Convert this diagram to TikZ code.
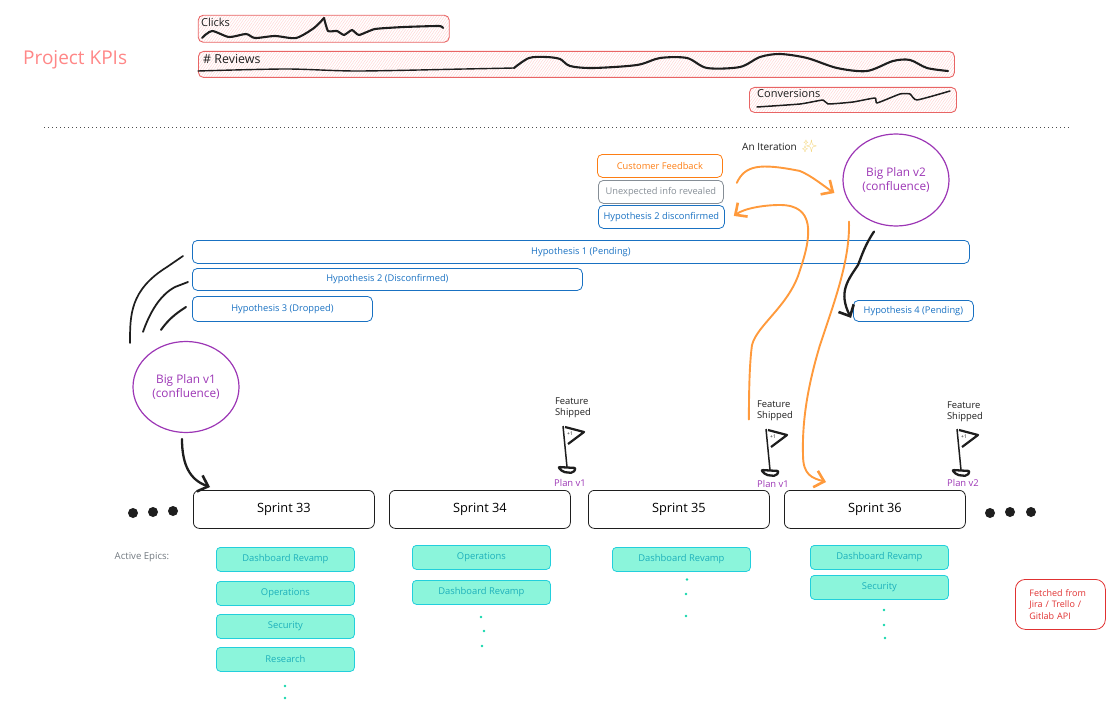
\documentclass[tikz,border=0pt]{standalone}
\usepackage{fontspec}
\setmainfont{Open Sans}
\newfontfamily\emojifont{Noto Emoji}
\usepackage{xcolor}
\usetikzlibrary{arrows.meta,patterns.meta,shapes.geometric}
\definecolor{kpiRed}{HTML}{E03131}
\definecolor{kpiPink}{HTML}{FF8787}
\definecolor{hatchPink}{HTML}{FFD5D5}
\definecolor{hypBlue}{HTML}{1971C2}
\definecolor{fbOrange}{HTML}{FD7E14}
\definecolor{arrOrange}{HTML}{FF9A3C}
\definecolor{infoGray}{HTML}{868E96}
\definecolor{planPurple}{HTML}{9C36B5}
\definecolor{epicFill}{HTML}{8BF5DB}
\definecolor{epicLine}{HTML}{22CFDC}
\definecolor{dotGreen}{HTML}{14D6AC}
\definecolor{inkBlack}{HTML}{1E1E1E}
\definecolor{sparkYellow}{HTML}{F2D272}

\begin{document}
\begin{tikzpicture}[x=1pt, y=-1pt,
    kpibox/.style={draw=kpiRed!75, line width=0.9pt, rounded corners=5pt, anchor=north west,
      pattern={Lines[angle=55,distance=2.2pt,line width=0.5pt]}, pattern color=hatchPink},
    kpilabel/.style={font=\fontsize{11}{11}\selectfont, text=inkBlack, anchor=west, inner sep=0pt},
    kpiline/.style={inkBlack, line width=2.1pt, line cap=round, line join=round},
    hypbox/.style={draw=hypBlue, line width=0.8pt, rounded corners=5pt, anchor=north west, inner sep=0pt,
      text=hypBlue, font=\fontsize{9.3}{9.3}\selectfont},
    sprintbox/.style={draw=inkBlack, line width=0.8pt, rounded corners=6pt, anchor=north west, inner sep=0pt,
      minimum width=181pt, minimum height=38pt, font=\fontsize{12.8}{12.8}\selectfont},
    epicbox/.style={draw=epicLine, fill=epicFill, line width=0.8pt, rounded corners=4pt, anchor=north west,
      inner sep=0pt, minimum width=138pt, minimum height=24pt, text=epicLine!85!black,
      font=\fontsize{9.4}{9.4}\selectfont},
    planbubble/.style={draw=planPurple, line width=1.2pt, ellipse, text=planPurple, align=center,
      font=\fontsize{11.8}{13.5}\selectfont},
    shiplabel/.style={align=left, text=inkBlack, inner sep=0pt, font=\fontsize{9.4}{11.5}\selectfont},
    planlabel/.style={text=planPurple, inner sep=0pt, font=\fontsize{9.4}{9.4}\selectfont},
    inkarrow/.style={inkBlack, line width=2.3pt, line cap=round, line join=round},
    orangearrow/.style={arrOrange, line width=1.9pt, line cap=round, line join=round},
    barbtip/.style={-{Straight Barb[length=9pt,width=17pt,line width=2.6pt]}},
  ]
  \useasboundingbox (0,0) rectangle (1120,701);

  % KPI strip
  \node[text=kpiPink, font=\fontsize{19}{19}\selectfont, anchor=west, inner sep=0pt] (kpiTitle) at (23,60) {Project KPIs};
  \node[kpibox, minimum width=251pt, minimum height=27pt] (clicksBox) at (198,15) {};
  \node[kpibox, minimum width=756pt, minimum height=26pt] (reviewsBox) at (198,51) {};
  \node[kpibox, minimum width=207pt, minimum height=25pt] (conversionsBox) at (749,87) {};
  \node[kpilabel] (clicksLabel) at (201,22) {Clicks};
  \node[kpilabel, font=\fontsize{12.4}{12.4}\selectfont] (reviewsLabel) at (203,59) {\# Reviews};
  \node[kpilabel] (conversionsLabel) at (757,94) {Conversions};
  \draw[kpiline] plot[smooth, tension=0.45] coordinates {(202,38) (212,31) (229,37) (246,34) (255,38) (275,36) (296,38) (314,28) (324,18)};
  \draw[kpiline] plot[smooth, tension=0.3] coordinates {(324,18) (328,31) (337,31) (344,35) (352,30) (359,35) (375,29) (404,27) (439,26) (443,28)};
  \draw[kpiline, line width=1.4pt] plot[smooth, tension=0.5] coordinates {(198,71) (286,69) (357,71) (464,69) (514,68)};
  \draw[kpiline] plot[smooth, tension=0.5] coordinates {(514,68) (529,58) (546,57) (560,59) (570,66) (593,68) (637,65) (660,58) (687,58) (707,68) (740,67) (760,57) (780,54) (807,58) (837,68) (867,71) (893,61) (910,60) (927,68) (948,71)};
  \draw[kpiline, line width=1.5pt] plot[smooth, tension=0.3] coordinates {(757,107) (800,104) (823,100) (828,104) (853,102) (875,98) (877,103) (900,94) (910,94) (917,100) (950,91)};

  % Divider
  \draw[inkBlack!80, line width=0.9pt, dash pattern=on 1pt off 3pt] (44,127.5) -- (1071,127.5);

  % Iteration inputs
  \node[text=inkBlack, font=\fontsize{10}{10}\selectfont, inner sep=0pt, anchor=west] (iterLabel) at (742,146) {An Iteration\hspace{5pt}{\emojifont\color{sparkYellow}\fontsize{12}{12}\selectfont ✨}};
  \node[hypbox, draw=fbOrange, text=fbOrange, minimum width=125pt, minimum height=23pt] (feedbackBox) at (597,154) {Customer Feedback};
  \node[hypbox, draw=infoGray, text=infoGray, minimum width=125pt, minimum height=23pt] (infoBox) at (598,180) {Unexpected info revealed};
  \node[hypbox, minimum width=126pt, minimum height=23pt] (disconfirmedBox) at (598,205) {Hypothesis 2 disconfirmed};

  % Plans
  \node[planbubble, minimum width=106pt, minimum height=92pt, inner sep=0pt] (planTwo) at (896,180) {Big Plan v2\\(confluence)};
  \node[planbubble, minimum width=106pt, minimum height=91pt, inner sep=0pt] (planOne) at (186,387) {Big Plan v1\\(confluence)};

  % Hypotheses
  \node[hypbox, minimum width=777pt, minimum height=23pt] (hypOne) at (192,240) {Hypothesis 1 (Pending)};
  \node[hypbox, minimum width=390pt, minimum height=22pt] (hypTwo) at (192,268) {Hypothesis 2 (Disconfirmed)};
  \node[hypbox, minimum width=180pt, minimum height=25pt] (hypThree) at (192,296) {Hypothesis 3 (Dropped)};
  \node[hypbox, minimum width=120pt, minimum height=21pt] (hypFour) at (853,300) {Hypothesis 4 (Pending)};

  % Sprints
  \node[sprintbox] (sprintA) at (193,490) {Sprint 33};
  \node[sprintbox] (sprintB) at (389,490) {Sprint 34};
  \node[sprintbox] (sprintC) at (588,490) {Sprint 35};
  \node[sprintbox] (sprintD) at (784,490) {Sprint 36};
  \foreach \dotx/\doty in {133/513, 153/512, 173/511, 990/513, 1010/512, 1031/512}
    \fill[inkBlack] (\dotx,\doty) circle (5);

  % Flags
  \foreach \flagid/\flagx/\flagy/\planname/\labx/\laby in {a/563/426/Plan v1/570/483, b/766/429/Plan v1/773/484, c/957/429/Plan v2/963/483} {
    \begin{scope}[shift={(\flagx,\flagy)}]
      \draw[inkBlack, line width=2.2pt, line join=round] (2,1) -- (21,6) -- (5,18);
      \draw[inkBlack, line width=1.5pt] (0,0) -- (4,41);
      \draw[inkBlack, line width=2.3pt, line join=round, rounded corners=2pt] (-5,41) -- (13,42) -- (10,47) -- (0,46) -- cycle;
      \node[inkBlack, font=\fontsize{5}{5}\selectfont, inner sep=0pt] (plus\flagid) at (7,8) {+1};
    \end{scope}
    \node[planlabel] (plan\flagid) at (\labx,\laby) {\planname};
  }
  \node[shiplabel] (shipA) at (573,408) {Feature\\Shipped};
  \node[shiplabel] (shipB) at (775,411) {Feature\\Shipped};
  \node[shiplabel] (shipC) at (965,412) {Feature\\Shipped};

  % Epics
  \node[text=infoGray!85!black, font=\fontsize{9.6}{9.6}\selectfont, inner sep=0pt] (epicsLabel) at (142,557) {Active Epics:};
  \node[epicbox] (epicAa) at (216,547) {Dashboard Revamp};
  \node[epicbox] (epicAb) at (216,581) {Operations};
  \node[epicbox] (epicAc) at (216,614) {Security};
  \node[epicbox] (epicAd) at (216,647) {Research};
  \node[epicbox] (epicBa) at (412,545) {Operations};
  \node[epicbox] (epicBb) at (412,580) {Dashboard Revamp};
  \node[epicbox] (epicCa) at (612,547) {Dashboard Revamp};
  \node[epicbox] (epicDa) at (810,545) {Dashboard Revamp};
  \node[epicbox] (epicDb) at (810,575) {Security};
  \foreach \dotx/\doty in {285/686, 285/698, 481/617, 484/631, 482/646, 687/579.5, 686/594, 686/616, 884/610, 884/625, 885/638}
    \fill[dotGreen] (\dotx,\doty) circle (1.4);

  % Source note
  \node[draw=kpiRed, line width=0.8pt, rounded corners=10pt, anchor=north west, minimum width=90pt, minimum height=50pt,
    inner sep=0pt, text width=80pt, align=left, text=kpiRed, font=\fontsize{9}{11.5}\selectfont] (sourceNote) at (1015,579) {\hspace*{9pt}Fetched from\\\hspace*{9pt}Jira / Trello /\\\hspace*{9pt}Gitlab API};

  % Plan v1 connectors
  \draw[inkarrow, barbtip] ([shift={(-4,6)}]planOne.south) .. controls (182,465) and (190,480) .. ([shift={(17,-3)}]sprintA.north west);
  \draw[inkarrow, line width=1.7pt] ([shift={(-56,2)}]planOne.north) .. controls (130,315) and (130,290) .. (167,267) -- ([shift={(-9,16)}]hypOne.north west);
  \draw[inkarrow, line width=1.8pt] ([shift={(-43,-9)}]planOne.north) .. controls (150,312) and (160,295) .. (175,287) -- ([shift={(-4,14)}]hypTwo.north west);
  \draw[inkarrow, line width=2pt] ([shift={(-25,-11)}]planOne.north) .. controls (168,320) and (175,314) .. ([shift={(-6,11)}]hypThree.north west);

  % Iteration loop
  \draw[orangearrow, barbtip] ([shift={(13,-9)}]infoBox.east) .. controls (745,165) and (760,163) .. (800,171) .. controls (812,176) and (825,187) .. ([shift={(-8,13)}]planTwo.west);
  \draw[orangearrow, barbtip] ([shift={(-8,-2)}]shipB.south west) .. controls (749,380) and (750,360) .. (752,345) .. controls (757,325) and (790,305) .. (800,270) .. controls (812,235) and (815,205) .. (780,205) .. controls (765,205) and (745,208) .. ([shift={(9,-1)}]disconfirmedBox.east);
  \draw[orangearrow, barbtip] ([shift={(-47,-5)}]planTwo.south) .. controls (850,260) and (835,300) .. (820,345) .. controls (808,385) and (802,420) .. (803,455) .. controls (803,475) and (812,478) .. ([shift={(42,-8)}]sprintD.north west);
  \draw[inkarrow, barbtip] ([shift={(-22,5)}]planTwo.south) .. controls (865,245) and (862,255) .. (858,265) .. controls (848,280) and (838,292) .. ([shift={(-2,7)}]hypFour.west);
\end{tikzpicture}
\end{document}
